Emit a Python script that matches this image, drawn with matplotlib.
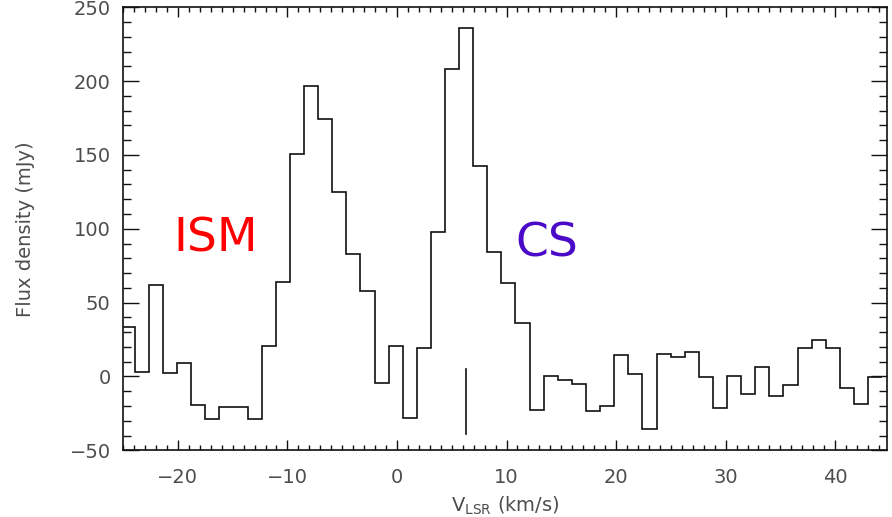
import matplotlib
matplotlib.use("Agg")
import matplotlib.pyplot as plt
import numpy as np
from matplotlib.ticker import MultipleLocator

# channel centres (km/s) and flux densities (mJy)
vlsr = [-24.57, -23.29, -22.00, -20.71, -19.43, -18.14, -16.85, -15.56, -14.28,
        -12.99, -11.70, -10.42, -9.13, -7.84, -6.56, -5.27, -3.98, -2.69,
        -1.41, -0.12, 1.17, 2.45, 3.74, 5.03, 6.32, 7.60, 8.89,
        10.18, 11.46, 12.75, 14.04, 15.33, 16.61, 17.90, 19.19, 20.47,
        21.76, 23.05, 24.34, 25.62, 26.91, 28.20, 29.48, 30.77, 32.06,
        33.35, 34.63, 35.92, 37.21, 38.49, 39.78, 41.07, 42.35, 43.64]
flux = [33.3, 3.2, 62.0, 2.5, 8.8, -19.6, -29.1, -20.5, -20.5,
        -29.1, 20.9, 64.2, 150.9, 196.6, 174.5, 125.0, 82.8, 57.9,
        -4.5, 20.3, -28.4, 19.6, 97.5, 208.1, 235.8, 142.8, 84.3,
        63.5, 36.5, -23.0, 0.2, -2.7, -5.2, -23.6, -19.9, 14.2,
        1.6, -35.8, 14.9, 13.3, 16.4, -0.5, -21.4, 0.2, -12.2,
        6.3, -13.0, -5.9, 19.4, 24.8, 19.4, -7.6, -18.4, -0.2]

# systemic velocity marker
v_sys = 6.27
marker_span = (-39, 5)

labels = ["ISM", "CS"]
label_pos = [(-20.4, 84.5), (10.8, 81)]
label_colors = ["#ff0000", "#4b0ac8"]

v = np.array(vlsr)
mids = (v[1:] + v[:-1]) / 2
edges = np.concatenate([[v[0] - (mids[0] - v[0])], mids, [v[-1] + (v[-1] - mids[-1])]])

fig = plt.figure(figsize=(8.92, 5.17), dpi=100)
ax = fig.add_axes([0.138, 0.129, 0.856, 0.857])

ax.stairs(flux, edges, baseline=None, color="#111111", lw=1.2)
ax.plot([v_sys, v_sys], marker_span, color="#111111", lw=1.2)

for txt, (x, y), c in zip(labels, label_pos, label_colors):
    ax.text(x, y, txt, color=c, fontsize=34, ha="left", va="baseline",
            family="DejaVu Sans")

ax.set_xlim(-25.0, 44.7)
ax.set_ylim(-50, 250)

ax.xaxis.set_major_locator(MultipleLocator(10))
ax.xaxis.set_minor_locator(MultipleLocator(1))
ax.yaxis.set_major_locator(MultipleLocator(50))
ax.yaxis.set_minor_locator(MultipleLocator(10))

gray = "#4d4d4d"
ax.tick_params(axis="both", which="both", direction="in", top=True, right=True,
               color="#111111", width=1.0, labelcolor=gray, labelsize=14)
ax.tick_params(axis="x", which="major", length=7.5, pad=13)
ax.tick_params(axis="x", which="minor", length=3.6)
ax.tick_params(axis="y", which="major", length=11.5, pad=9)
ax.tick_params(axis="y", which="minor", length=5.8)

for s in ax.spines.values():
    s.set_linewidth(1.2)
    s.set_color("#111111")

ax.set_xlabel(r"$\mathregular{V_{LSR}}$ (km/s)", fontsize=14, color=gray)
ax.set_ylabel("Flux density (mJy)", fontsize=14, color=gray)
ax.xaxis.set_label_coords(0.5, -0.1)
ax.yaxis.set_label_coords(-0.115, 0.5)

fig.savefig("out.png", dpi=100)
